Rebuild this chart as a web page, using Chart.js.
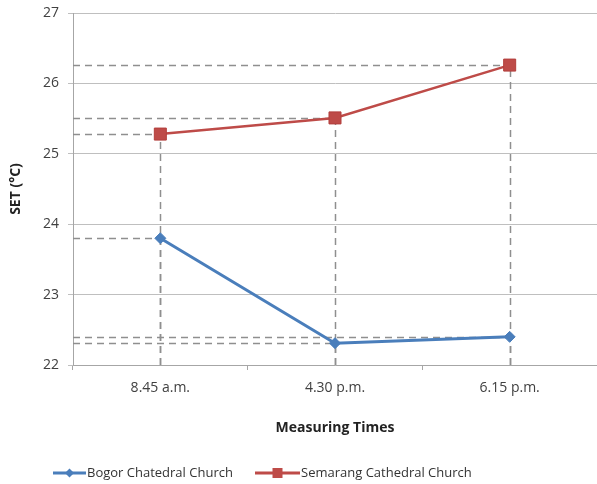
<!DOCTYPE html>
<html>
<head>
<meta charset="utf-8">
<script src="https://cdn.jsdelivr.net/npm/chart.js@4.4.0/dist/chart.umd.min.js"></script>
<style>
html,body{margin:0;padding:0;background:#fff;}
#wrap{width:597px;height:484px;}
</style>
</head>
<body>
<div id="wrap"><canvas id="c" width="597" height="484"></canvas></div>
<script>
const categories = ['8.45 a.m.', '4.30 p.m.', '6.15 p.m.'];
const bogor = [23.8, 22.31, 22.4];
const semarang = [25.28, 25.51, 26.26];
const seriesNames = ['Bogor Chatedral Church', 'Semarang Cathedral Church'];
const yTicks = [22, 23, 24, 25, 26, 27];

const FONT = '"Open Sans", "Liberation Sans", sans-serif';
const BLUE = '#4a7ebb';
const RED = '#be4b48';

const dropLines = {
  id: 'dropLines',
  beforeDatasetsDraw(chart) {
    const {ctx, chartArea} = chart;
    ctx.save();
    ctx.strokeStyle = '#8f8f8f';
    ctx.lineWidth = 1.5;
    ctx.setLineDash([7, 5]);
    chart.data.datasets.forEach((ds, i) => {
      const meta = chart.getDatasetMeta(i);
      meta.data.forEach(pt => {
        ctx.beginPath();
        ctx.moveTo(chartArea.left, Math.round(pt.y) + 0.5);
        ctx.lineTo(pt.x, Math.round(pt.y) + 0.5);
        ctx.stroke();
        ctx.beginPath();
        ctx.moveTo(Math.round(pt.x) + 0.5, chartArea.bottom);
        ctx.lineTo(Math.round(pt.x) + 0.5, pt.y);
        ctx.stroke();
      });
    });
    ctx.restore();
  }
};

const customLegend = {
  id: 'customLegend',
  afterDraw(chart) {
    const {ctx} = chart;
    const y = 473;
    const items = [
      {x: 53, len: 33, ds: 0},
      {x: 255, len: 45, ds: 1}
    ];
    ctx.save();
    ctx.font = '13px ' + FONT;
    ctx.textBaseline = 'middle';
    items.forEach(it => {
      const ds = chart.data.datasets[it.ds];
      ctx.strokeStyle = ds.borderColor;
      ctx.fillStyle = ds.backgroundColor;
      ctx.lineWidth = 3;
      ctx.setLineDash([]);
      ctx.beginPath();
      ctx.moveTo(it.x, y);
      ctx.lineTo(it.x + it.len, y);
      ctx.stroke();
      const cx = it.x + it.len / 2;
      ctx.beginPath();
      if (ds.pointStyle === 'rectRot') {
        ctx.moveTo(cx, y - 4.5); ctx.lineTo(cx + 4.5, y); ctx.lineTo(cx, y + 4.5); ctx.lineTo(cx - 4.5, y); ctx.closePath();
      } else {
        ctx.rect(cx - 5, y - 5, 10, 10);
      }
      ctx.fill();
      ctx.fillStyle = '#333';
      ctx.textAlign = 'left';
      ctx.fillText(ds.label, it.x + it.len + 1, y);
    });
    ctx.restore();
  }
};

new Chart(document.getElementById('c'), {
  type: 'line',
  data: {
    labels: categories,
    datasets: [
      {
        label: seriesNames[0], data: bogor,
        borderColor: BLUE, backgroundColor: BLUE, borderWidth: 3,
        pointStyle: 'rectRot', pointRadius: 5.5, pointHoverRadius: 5.5,
        pointBorderWidth: 1, pointBorderColor: BLUE, pointBackgroundColor: BLUE,
        tension: 0
      },
      {
        label: seriesNames[1], data: semarang,
        borderColor: RED, backgroundColor: RED, borderWidth: 2.5,
        pointStyle: 'rect', pointRadius: 8.5, pointHoverRadius: 8.5,
        pointBorderWidth: 1, pointBorderColor: '#b33f3c', pointBackgroundColor: RED,
        tension: 0
      }
    ]
  },
  options: {
    responsive: false,
    animation: false,
    events: [],
    layout: {autoPadding: false, padding: {top: 13, right: 0, bottom: 40, left: 0}},
    plugins: {legend: {display: false}, tooltip: {enabled: false}},
    scales: {
      x: {
        offset: true,
        grid: {offset: true, drawOnChartArea: false, drawTicks: true, tickLength: 5, color: '#a6a6a6'},
        border: {display: true, color: '#a6a6a6', width: 1},
        ticks: {font: {family: FONT, size: 14}, color: '#404040', padding: 10, maxRotation: 0},
        title: {display: true, text: 'Measuring Times', font: {family: FONT, size: 14, weight: 'bold'}, color: '#222', padding: {top: 4, bottom: 8}},
        afterFit(scale) { scale.height = 79; scale.paddingLeft = 0; scale.paddingRight = 0; }
      },
      y: {
        min: 22, max: 27,
        afterBuildTicks(scale) { scale.ticks = yTicks.map(v => ({value: v})); },
        grid: {color: '#bfbfbf', tickLength: 5, lineWidth: 1},
        border: {display: true, color: '#a6a6a6', width: 1},
        ticks: {font: {family: FONT, size: 14}, color: '#404040', padding: 9},
        title: {display: true, text: 'SET (°C)', font: {family: FONT, size: 14, weight: 'bold'}, color: '#222', padding: {top: 8, bottom: 4}},
        afterFit(scale) { scale.width = 73; scale.paddingTop = 0; scale.paddingBottom = 0; }
      }
    }
  },
  plugins: [dropLines, customLegend]
});
</script>
</body>
</html>
